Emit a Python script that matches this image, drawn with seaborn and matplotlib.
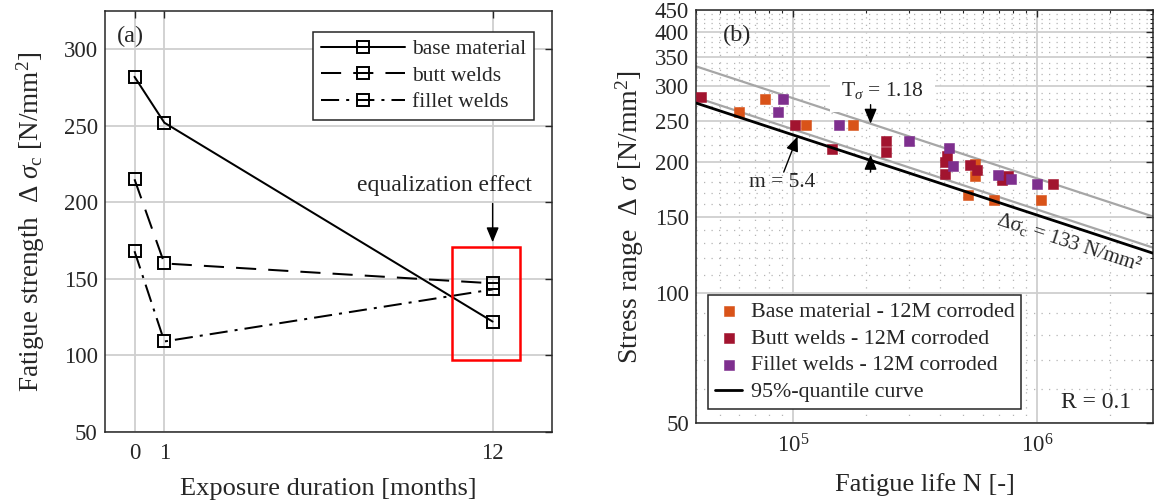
import numpy as np
import pandas as pd
import seaborn as sns
import matplotlib.pyplot as plt
from matplotlib.patches import Rectangle
from matplotlib.ticker import FixedLocator, LogLocator, NullFormatter

# (a) fatigue strength vs. exposure duration
months = [0, 1, 12]
base_material = [282, 252, 122]
butt_welds = [215, 160, 147]
fillet_welds = [168, 109, 143]

# (b) test results after 12 months of corrosion (N, stress range)
base_N = [6.0e4, 7.7e4, 1.13e5, 1.77e5, 5.2e5, 5.6e5, 5.6e5, 6.65e5, 1.04e6]
base_S = [262, 281, 244, 244, 168, 198, 186, 164, 164]
butt_N = [4.2e4, 1.02e5, 1.45e5, 2.41e5, 2.41e5, 4.2e5, 4.3e5, 4.2e5,
          5.3e5, 5.7e5, 7.2e5, 7.6e5, 1.17e6]
butt_S = [283, 244, 215, 224, 211, 188, 207, 201, 197, 192, 182, 186, 178]
fillet_N = [8.7e4, 9.07e4, 1.55e5, 3.0e5, 4.35e5, 4.55e5, 6.9e5, 7.8e5, 1.0e6]
fillet_S = [262, 281, 244, 224, 216, 196, 187, 183, 178]

# S-N curve parameters
dsig_c = 133      # 95%-quantile at 2e6 cycles
dsig_lo = 137     # lower scatter band line at 2e6 cycles
m_slope = 5.4
T_sigma = 1.18
N_ref = 2e6
N_range = [4e4, 3e6]

c_base, c_butt, c_fillet = "#D95319", "#A2142F", "#7E2F8E"
ink = "#262626"

sns.set_style("white")
plt.rcParams["font.family"] = ["Liberation Serif", "DejaVu Serif"]
plt.rcParams["mathtext.fontset"] = "custom"
plt.rcParams["mathtext.rm"] = "Liberation Serif"
plt.rcParams["mathtext.it"] = "Liberation Serif:italic"
plt.rcParams["mathtext.bf"] = "Liberation Serif:bold"
plt.rcParams["axes.edgecolor"] = ink
plt.rcParams["axes.linewidth"] = 1.1
plt.rcParams["text.color"] = ink
plt.rcParams["axes.labelcolor"] = ink
plt.rcParams["xtick.color"] = ink
plt.rcParams["ytick.color"] = ink

fig = plt.figure(figsize=(11.54, 5.03), dpi=100)
ax_a = fig.add_axes([0.0907, 0.1417, 0.3879, 0.8364])
ax_b = fig.add_axes([0.6031, 0.159, 0.3962, 0.821])

# ---------- (a) ----------
series = [("base material", base_material, "-"),
          ("butt welds", butt_welds, (0, (10, 6))),
          ("fillet welds", fillet_welds, (0, (9, 3.5, 1.5, 3.5)))]
for name, vals, ls in series:
    sns.lineplot(x=months, y=vals, ax=ax_a, color="k", lw=1.45, ls=ls,
                 marker="s", markersize=8.6, mfc="none", mec="k", mew=1.4,
                 label=name)

ax_a.set_xlim(-1, 14)
ax_a.set_ylim(50, 325)
ax_a.set_xticks(months)
ax_a.set_yticks(range(50, 301, 50))
ax_a.grid(True, color="#cfcfcf", lw=1.3)
ax_a.tick_params(which="both", direction="in", top=True, right=True,
                 length=5, width=1.0, labelsize=16.5)
ax_a.tick_params(axis="x", pad=8)
ax_a.tick_params(axis="y", pad=5)
ax_a.set_xlabel("Exposure duration [months]", fontsize=19)
ax_a.set_ylabel(r"Fatigue strength  $\Delta$ $\sigma_{\rm c}$ [N/mm$^2$]",
                fontsize=19.5)
ax_a.xaxis.set_label_coords(0.5, -0.11)
ax_a.yaxis.set_label_coords(-0.128, 0.5)

ax_a.add_patch(Rectangle((10.65, 97), 2.28, 74, fill=False,
                         edgecolor="#ff0000", lw=1.8, zorder=5))
ax_a.annotate("", xy=(12, 172), xytext=(12, 201),
              arrowprops=dict(arrowstyle="-|>,head_length=0.6,head_width=0.25",
                              color="k", lw=1.0, mutation_scale=15))
ax_a.text(10.4, 211, "equalization effect", ha="center", va="center",
          fontsize=17)
ax_a.text(0.057, 0.94, "(a)", transform=ax_a.transAxes, ha="center",
          va="center", fontsize=17.5)

leg_a = ax_a.legend(loc="upper right", bbox_to_anchor=(0.959, 0.951),
                    borderaxespad=0, fontsize=15.5, handlelength=3.9,
                    handletextpad=0.35, labelspacing=0.3, borderpad=0.35,
                    fancybox=False, framealpha=1, edgecolor=ink)
leg_a.get_frame().set_linewidth(1.1)

# ---------- (b) ----------
ax_b.set_xscale("log")
ax_b.set_yscale("log")

N_line = np.array(N_range)
S_95 = dsig_c * (N_ref / N_line) ** (1 / m_slope)
S_lo = dsig_lo * (N_ref / N_line) ** (1 / m_slope)
S_hi = S_lo * T_sigma

sns.lineplot(x=N_line, y=S_hi, ax=ax_b, color="#a6a6a6", lw=1.6, zorder=2)
sns.lineplot(x=N_line, y=S_lo, ax=ax_b, color="#a6a6a6", lw=1.6, zorder=2)

for N, S, col, lab in [(base_N, base_S, c_base, "Base material - 12M corroded"),
                       (butt_N, butt_S, c_butt, "Butt welds - 12M corroded"),
                       (fillet_N, fillet_S, c_fillet, "Fillet welds - 12M corroded")]:
    sns.scatterplot(x=N, y=S, ax=ax_b, color=col, marker="s", s=52,
                    linewidth=0.4, edgecolor=col, label=lab, zorder=3)

sns.lineplot(x=N_line, y=S_95, ax=ax_b, color="k", lw=2.0, zorder=4,
             label="95%-quantile curve")

ax_b.set_xlim(*N_range)
ax_b.set_ylim(50, 450)
ax_b.set_yticks(range(50, 451, 50), labels=[str(v) for v in range(50, 451, 50)])
ax_b.yaxis.set_minor_locator(FixedLocator([v for v in range(50, 451, 10) if v % 50]))
ax_b.yaxis.set_minor_formatter(NullFormatter())
ax_b.xaxis.set_major_locator(LogLocator(base=10))
ax_b.xaxis.set_minor_locator(LogLocator(base=10, subs=np.arange(2, 10)))
ax_b.xaxis.set_minor_formatter(NullFormatter())
ax_b.grid(True, which="major", color="#cfcfcf", lw=1.3)
ax_b.grid(True, which="minor", color="#b5b5b5", lw=0.9, ls=(0, (1, 5)))
ax_b.tick_params(which="both", direction="in", top=True, right=True,
                 labelsize=16.5)
ax_b.tick_params(which="major", length=5, width=1.0)
ax_b.tick_params(which="minor", length=2.5, width=0.8)
ax_b.tick_params(axis="x", pad=8)
ax_b.tick_params(axis="y", pad=5)
ax_b.set_xlabel("Fatigue life N [-]", fontsize=19)
ax_b.set_ylabel(r"Stress range  $\Delta$ $\sigma$ [N/mm$^2$]", fontsize=20)
ax_b.xaxis.set_label_coords(0.5, -0.12)
ax_b.yaxis.set_label_coords(-0.11, 0.5)

# scatter band annotation
N_arrow = 2.08e5
S_hi_arrow = dsig_lo * T_sigma * (N_ref / N_arrow) ** (1 / m_slope)
S_lo_arrow = dsig_lo * (N_ref / N_arrow) ** (1 / m_slope)
arrow_kw = dict(arrowstyle="-|>,head_length=0.6,head_width=0.25", color="k",
                lw=1.0, mutation_scale=15, shrinkA=0, shrinkB=0)
ax_b.annotate("", xy=(N_arrow, S_hi_arrow), xytext=(N_arrow, 272),
              arrowprops=arrow_kw, zorder=6)
ax_b.annotate("", xy=(N_arrow, S_lo_arrow), xytext=(N_arrow, 190),
              arrowprops=arrow_kw, zorder=6)
ax_b.text(2.33e5, 293, r"T$_\sigma$ = 1.18", ha="center", va="center",
          fontsize=15.5, zorder=5,
          bbox=dict(boxstyle="square,pad=0.5", fc="white", ec="none"))

N_m = 1.044e5
ax_b.annotate("", xy=(N_m, dsig_c * (N_ref / N_m) ** (1 / m_slope)),
              xytext=(9.16e4, 190), arrowprops=arrow_kw, zorder=6)
ax_b.text(9.0e4, 179.6, "m = 5.4", ha="center", va="center", fontsize=15.5)

ax_b.text(1.355e6, 131, r"Δσ$_{\rm c}$ = 133 N/mm²", ha="center", va="center",
          rotation=-18, rotation_mode="anchor", fontsize=15)
ax_b.text(0.089, 0.939, "(b)", transform=ax_b.transAxes, ha="center",
          va="center", fontsize=17.5)
ax_b.text(0.875, 0.049, "R = 0.1", transform=ax_b.transAxes, ha="center",
          va="center", fontsize=17)

leg_b = ax_b.legend(loc="lower left", bbox_to_anchor=(0.027, 0.034),
                    borderaxespad=0, fontsize=15.8, handlelength=1.25,
                    handletextpad=0.4, labelspacing=0.3, borderpad=0.3,
                    fancybox=False, framealpha=1, edgecolor=ink)
leg_b.get_frame().set_linewidth(1.1)

fig.savefig("out.png", dpi=100, facecolor="white")
